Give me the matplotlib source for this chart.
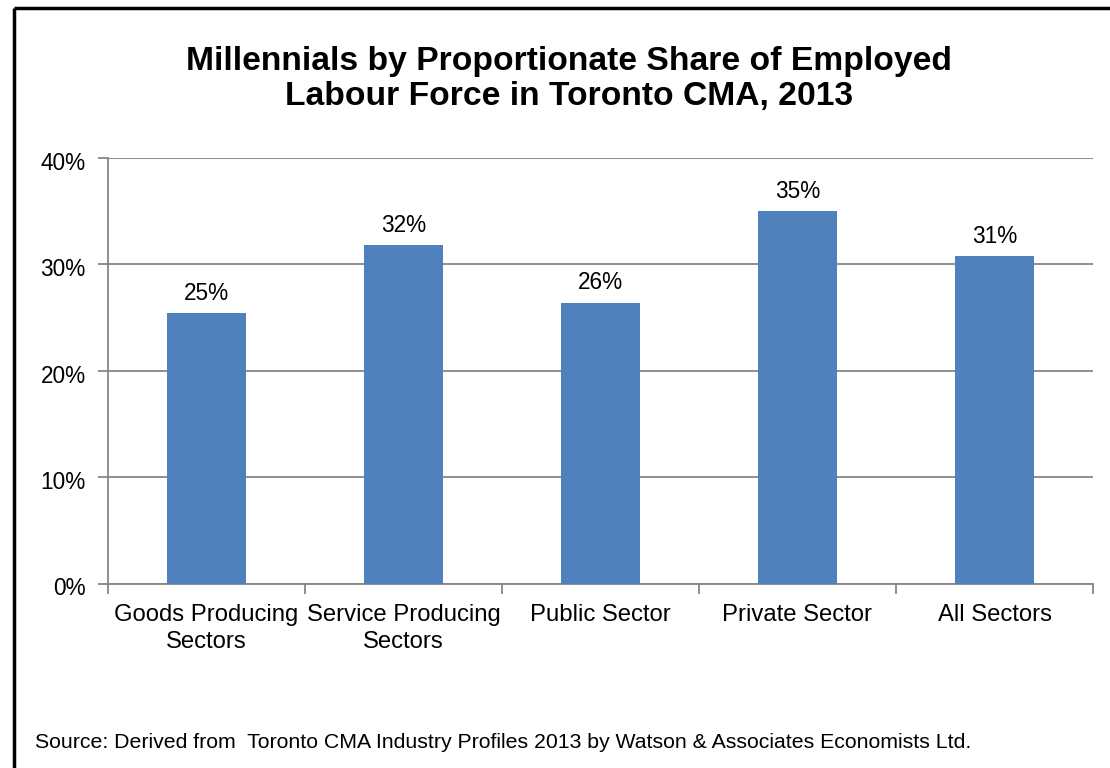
import matplotlib.pyplot as plt
from matplotlib.lines import Line2D
from matplotlib.transforms import ScaledTranslation
import numpy as np

plt.rcParams['font.family'] = ['Liberation Sans', 'DejaVu Sans']

categories = ["Goods Producing\nSectors", "Service Producing\nSectors", "Public Sector",
              "Private Sector", "All Sectors"]
shares = [25.4, 31.8, 26.4, 35.0, 30.8]
yticks = [0, 10, 20, 30, 40]

bar_color = "#4F81BD"
grid_color = "#868686"

fig = plt.figure(figsize=(11.10, 7.68), dpi=100)
W, H = 1110, 768

ax = fig.add_axes([108 / W, 1 - 583.5 / H, (1093 - 108) / W, (583.5 - 158) / H])
x = np.arange(len(categories))
ax.bar(x, shares, width=0.4, color=bar_color, zorder=3)
for xi, v in zip(x, shares):
    ax.annotate(f"{v:.0f}%", (xi, v), xytext=(0, 6), textcoords="offset points",
                ha="center", va="bottom", fontsize=16.3, color="black")

ax.set_xlim(-0.5, len(categories) - 0.5)
ax.set_ylim(0, 40)
ax.set_yticks(yticks)
ax.set_yticklabels([f"{t}%" for t in yticks], fontsize=16.3)
ax.yaxis.grid(True, color=grid_color, linewidth=1.3, zorder=0)
ax.tick_params(axis="y", length=7, width=1.3, color=grid_color, pad=9)
shift = ScaledTranslation(0, -2 / 72, fig.dpi_scale_trans)
for lbl in ax.get_yticklabels():
    lbl.set_transform(lbl.get_transform() + shift)

# category labels sit between boundary ticks
ax.set_xticks(x)
ax.set_xticklabels(categories, fontsize=17.2, linespacing=1.25)
ax.tick_params(axis="x", length=0, pad=15)
ax.set_xticks(np.arange(-0.5, len(categories)), minor=True)
ax.tick_params(axis="x", which="minor", length=7, width=1.3, color=grid_color)

for side in ("top", "right"):
    ax.spines[side].set_visible(False)
for side in ("left", "bottom"):
    ax.spines[side].set_color(grid_color)
    ax.spines[side].set_linewidth(1.3)

fig.text(0.513, 1 - 79 / H, "Millennials by Proportionate Share of Employed\nLabour Force in Toronto CMA, 2013",
         ha="center", va="center", fontsize=24.2, fontweight="bold", linespacing=1.2)

fig.text(35 / W, 1 - 748 / H,
         "Source: Derived from  Toronto CMA Industry Profiles 2013 by Watson & Associates Economists Ltd.",
         ha="left", va="baseline", fontsize=15.3)

# outer frame along the top and left edges
fig.add_artist(Line2D([13.5 / W, 1.0], [1 - 8 / H, 1 - 8 / H], color="black", linewidth=2.5,
                      transform=fig.transFigure, solid_capstyle="butt"))
fig.add_artist(Line2D([13.5 / W, 13.5 / W], [0.0, 1 - 8 / H], color="black", linewidth=2.5,
                      transform=fig.transFigure, solid_capstyle="butt"))

fig.savefig("out.png", dpi=100)
